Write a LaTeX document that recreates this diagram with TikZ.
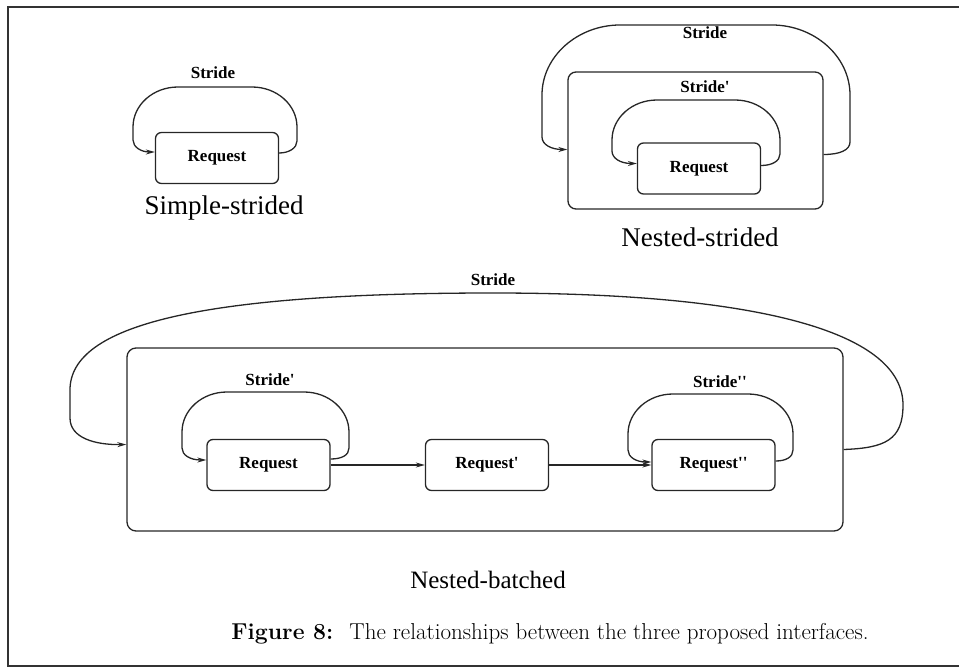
\documentclass[tikz,border=0pt]{standalone}
\usepackage{fontspec}
\newfontfamily\tnr{Liberation Serif}
\usetikzlibrary{arrows.meta}
\begin{document}
\begin{tikzpicture}[x=1pt,y=-1pt,
  every node/.style={inner sep=0pt},
  ln/.style={line width=1.3pt, draw=black!85},
  box/.style={draw=black!85, line width=1.3pt, rounded corners=6pt},
  req/.style={box, minimum width=123pt, minimum height=51pt, font=\tnr\bfseries\fontsize{17}{20}\selectfont},
  lbl/.style={font=\tnr\bfseries\fontsize{17}{20}\selectfont},
  big/.style={font=\tnr\fontsize{27}{32}\selectfont},
  arr/.style={ln, -{Stealth[length=9pt,width=5pt]}},
]
\useasboundingbox (0,0) rectangle (959,669);
% frame
\draw[line width=1.6pt, black!80] (959,7) -- (8,7) -- (8,666) -- (959,666);

% ---------- Simple-strided ----------
\node[req] (r1) at (217,158) {Request};
\node[lbl] (s1) at (213,73) {Stride};
\draw[arr] ([yshift=5pt]r1.east) .. controls (289,153) and (297,148) .. (297,141)
  -- (297,127) .. controls (297,105) and (277,87) .. (252,87)
  -- (178,87) .. controls (153,87) and (133,105) .. (133,127)
  -- (133,140) .. controls (133,147) and (141,152) .. ([yshift=6pt]r1.west);
\node[big] (t1) at (224,208) {Simple-strided};

% ---------- Nested-strided ----------
\node[box, rounded corners=8pt, minimum width=255pt, minimum height=137pt] (o2) at (695.5,140.5) {};
\node[req] (r2) at (699,168.5) {Request};
\node[lbl] (s2) at (705,33) {Stride};
\node[lbl] (s2p) at (705,87) {Stride'};
\draw[arr] ([yshift=-14pt]o2.east) .. controls (840,154.5) and (850,150) .. (850,142)
  -- (850,95) .. controls (850,56) and (814,25) .. (772,25)
  -- (620,25) .. controls (578,25) and (542,56) .. (542,95)
  -- (542,137) .. controls (542,145) and (552,149.5) .. ([yshift=-9pt]o2.west);
\draw[arr] ([yshift=3pt]r2.east) .. controls (772,165.5) and (780,161) .. (780,154)
  -- (780,140) .. controls (780,118) and (760,100) .. (735,100)
  -- (657,100) .. controls (632,100) and (612,118) .. (612,140)
  -- (612,151) .. controls (612,158) and (620,163.5) .. ([yshift=5pt]r2.west);
\node[big] (t2) at (700,237) {Nested-strided};

% ---------- Nested-batched ----------
\node[box, rounded corners=9pt, minimum width=716pt, minimum height=183pt] (o3) at (485,439.5) {};
\node[req] (b1) at (268.5,465) {Request};
\node[req] (b2) at (487,465) {Request'};
\node[req] (b3) at (713.5,465) {Request'\kern0pt'};
\node[lbl] (s3) at (493,280) {Stride};
\node[lbl] (s3a) at (270,380) {Stride'};
\node[lbl] (s3b) at (720,382) {Stride'\kern0pt'};
\draw[arr] (b1.east) -- (b2.west);
\draw[arr] (b2.east) -- (b3.west);
\draw[arr] ([yshift=6pt]b1.east) .. controls (342,459) and (349,455) .. (349,448)
  -- (349,432) .. controls (349,410) and (329,392) .. (304,392)
  -- (227,392) .. controls (202,392) and (182,410) .. (182,432)
  -- (182,448) .. controls (182,455) and (190,460) .. ([yshift=5pt]b1.west);
\draw[arr] ([yshift=4pt]b3.east) .. controls (786,461) and (793,457) .. (793,450)
  -- (793,434) .. controls (793,412) and (773,394) .. (748,394)
  -- (673,394) .. controls (648,394) and (628,412) .. (628,434)
  -- (628,450) .. controls (628,457) and (636,462) .. ([yshift=3pt]b3.west);
\draw[arr] ([yshift=-10pt]o3.east) .. controls (885,448) and (903,440) .. (903,405)
  .. controls (903,335) and (770,293) .. (493,293)
  .. controls (200,293) and (70,325) .. (70,390) -- (70,418)
  .. controls (70,438) and (95,445) .. ([yshift=-5pt]o3.west);
\node[font=\tnr\fontsize{25}{30}\selectfont] (t3) at (488,580) {Nested-batched};

% ---------- caption ----------
\node[font=\fontsize{23}{27}\selectfont] (cap) at (550,634)
  {\textbf{Figure 8:}\hspace{0.7em}The relationships between the three proposed interfaces.};
\end{tikzpicture}
\end{document}
